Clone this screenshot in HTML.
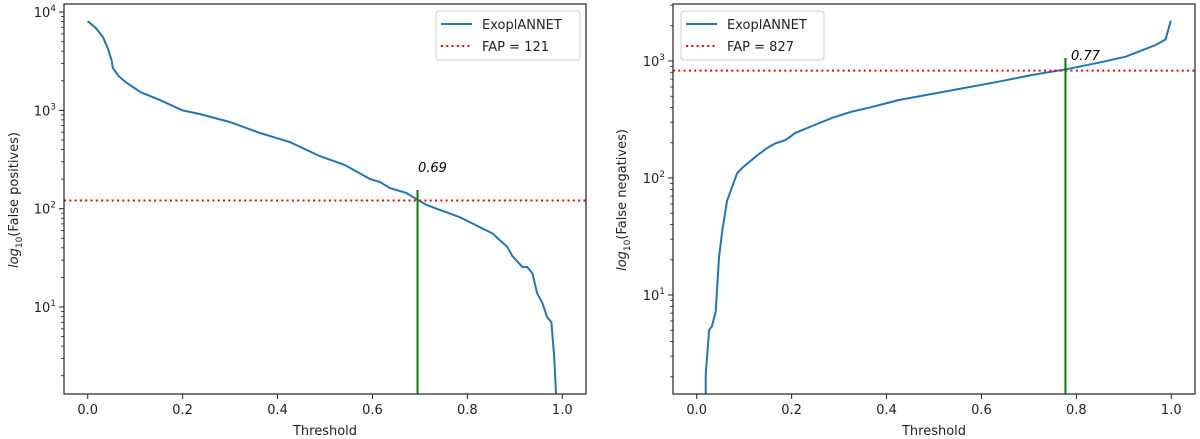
<!DOCTYPE html>
<html><head><meta charset="utf-8"><style>
html,body{margin:0;padding:0;background:#fff;overflow:hidden;width:1200px;height:439px;}
svg{display:block;font-family:"DejaVu Sans","Liberation Sans",sans-serif;}
</style></head><body>
<svg id="chart" width="1200" height="439" viewBox="0 0 1200 439" xmlns="http://www.w3.org/2000/svg"></svg>
<script>
// Left panel data (false positives)
const fpThresholds = [0,0.017,0.032,0.042,0.05,0.053,0.065,0.08,0.111,0.153,0.2,0.237,0.3,0.363,0.4,0.426,0.489,0.542,0.595,0.616,0.637,0.672,0.693,0.714,0.748,0.784,0.826,0.853,0.868,0.884,0.895,0.916,0.926,0.937,0.947,0.958,0.968,0.977,0.983,0.988];
const fpValues = [8100,6880,5570,4300,3250,2700,2230,1940,1535,1270,1000,917,760,588,520,476,343,278,200,187,162,144,125,109,95,82,65,56,48,41,33,25.5,25.5,22,13.8,11,7.9,7.0,3.1,1.0];
// Right panel data (false negatives)
const fnThresholds = [0.019,0.019,0.026,0.032,0.040,0.047,0.054,0.064,0.085,0.096,0.124,0.148,0.166,0.187,0.208,0.243,0.285,0.327,0.363,0.426,0.531,0.636,0.706,0.778,0.847,0.904,0.967,0.988,0.999];
const fnValues = [1.0,2.07,5.0,5.4,7.2,21,36,64,110,122,152,180,198,211,243,278,326,369,399,464,555,665,759,849,967,1088,1370,1530,2210];
const xTicks = [0,0.2,0.4,0.6,0.8,1.0];
const xTickLabels = ["0.0","0.2","0.4","0.6","0.8","1.0"];
const fpFAP = 121, fnFAP = 827;
const fpCut = 0.695, fnCut = 0.777;

const NS="http://www.w3.org/2000/svg";
const svg=document.getElementById('chart');
function mk(tag,attrs,parent){const e=document.createElementNS(NS,tag);for(const k in attrs)e.setAttribute(k,attrs[k]);(parent||svg).appendChild(e);return e;}

function panel(cfg){
  const g=mk('g',{});
  
  
  const L=cfg.left,R=cfg.right,T=4,B=394;
  const xs=t=>L+(t+0.05)/1.1*(R-L);
  const ys=v=>B-(Math.log10(v)-cfg.lmin)/(cfg.lmax-cfg.lmin)*(B-T);
  const clipId='clip-'+cfg.name;
  const cp=mk('clipPath',{id:clipId},g);mk('rect',{x:L,y:T,width:R-L,height:B-T},cp);
  let d='';cfg.tx.forEach((t,i)=>{d+=(i?'L':'M')+xs(t).toFixed(1)+','+ys(cfg.vy[i]).toFixed(1);});
  const line=mk('path',{d:d,fill:'none',stroke:'#1f77b4','stroke-width':2,'clip-path':'url(#'+clipId+')'},g);
  
  
  const fl=mk('line',{x1:L,x2:R,y1:ys(cfg.fap),y2:ys(cfg.fap),stroke:'red','stroke-width':2,'stroke-dasharray':'2,3.3'},g);
  
  
  const gl=mk('line',{x1:xs(cfg.cut),x2:xs(cfg.cut),y1:cfg.gTop,y2:B,stroke:'green','stroke-width':2},g);
  
  
  const at=mk('text',{x:cfg.annX,y:cfg.annY,'font-size':13,'font-style':'italic',fill:'#000'},g);
  at.textContent=cfg.annText;
  
  
  mk('rect',{x:L,y:T,width:R-L,height:B-T,fill:'none',stroke:'#222','stroke-width':1.2},g);
  xTicks.forEach((t,i)=>{const x=xs(t);mk('line',{x1:x,x2:x,y1:B,y2:B+5,stroke:'#222','stroke-width':1},g);
    const tx=mk('text',{x:x,y:B+20,'font-size':13,'text-anchor':'middle',fill:'#222'},g);tx.textContent=xTickLabels[i];
    
    });
  const xl=mk('text',{x:(L+R)/2,y:435,'font-size':13,'text-anchor':'middle',fill:'#222'},g);xl.textContent='Threshold';
  
  
  for(let dec=0;dec<=4;dec++){for(let m=1;m<10;m++){const v=m*Math.pow(10,dec);const y=ys(v);if(y<T-0.5||y>B+0.5)continue;
    mk('line',{x1:L,x2:L-(m===1?5:3),y1:y,y2:y,stroke:'#222','stroke-width':m===1?1:0.8},g);
    if(m===1){const tt=mk('text',{x:L-8,y:y+5,'font-size':13,'text-anchor':'end',fill:'#222'},g);
      
      
      const a=mk('tspan',{},tt);a.textContent='10';const s=mk('tspan',{dy:-6,'font-size':9},tt);s.textContent=String(dec);}}}
  const yl=mk('text',{transform:'translate('+cfg.ylX+',200) rotate(-90)','font-size':13,'text-anchor':'middle',fill:'#222'},g);
  
  
  const y1=mk('tspan',{'font-style':'italic'},yl);y1.textContent='log';
  const y2=mk('tspan',{'font-size':9,dy:4},yl);y2.textContent='10';
  const y3=mk('tspan',{dy:-4},yl);y3.textContent='('+cfg.ylText+')';
  const lg=mk('g',{},g);
  
  
  const lx=cfg.legX,lw=cfg.legW;
  mk('rect',{x:lx,y:11,width:lw,height:49,rx:3,fill:'#fff',stroke:'#d0d0d0','stroke-width':1},lg);
  mk('line',{x1:lx+5,x2:lx+36,y1:24,y2:24,stroke:'#1f77b4','stroke-width':2},lg);
  const t1=mk('text',{x:lx+46,y:29,'font-size':13,fill:'#222'},lg);t1.textContent='ExoplANNET';
  
  
  mk('line',{x1:lx+5,x2:lx+36,y1:46,y2:46,stroke:'red','stroke-width':2,'stroke-dasharray':'2,3.3'},lg);
  const t2=mk('text',{x:lx+46,y:51,'font-size':13,fill:'#222'},lg);t2.textContent='FAP = '+cfg.fap;
  
  
}
panel({name:'false-positives-panel',left:64,right:586,lmin:0.115,lmax:4.082,tx:fpThresholds,vy:fpValues,fap:fpFAP,cut:fpCut,gTop:190,annX:418,annY:172,annText:'0.69',ylX:18,ylText:'False positives',legX:436,legW:144});
panel({name:'false-negatives-panel',left:673,right:1195,lmin:0.154,lmax:3.487,tx:fnThresholds,vy:fnValues,fap:fnFAP,cut:fnCut,gTop:58,annX:1071,annY:60,annText:'0.77',ylX:626,ylText:'False negatives',legX:681,legW:143});
</script>
</body></html>
